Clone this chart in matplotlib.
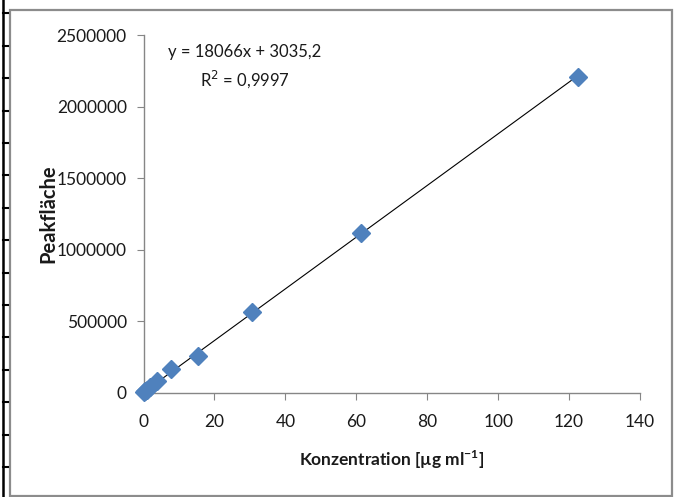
import matplotlib
matplotlib.use("Agg")
import matplotlib.pyplot as plt
from matplotlib.lines import Line2D
from matplotlib.patches import Rectangle
import numpy as np

plt.rcParams['font.family'] = ['Lato', 'DejaVu Sans']

konz = [0.24, 0.48, 0.96, 1.92, 3.83, 7.66, 15.3, 30.6, 61.25, 122.5]
peak = [4500, 10000, 20000, 38000, 80000, 163000, 258000, 566000, 1115000, 2207000]
slope = 18066
intercept = 3035.2
eq_text = "y = 18066x + 3035,2"
r2_text = "R$^2$ = 0,9997"
x_ticks = [0, 20, 40, 60, 80, 100, 120, 140]
y_ticks = [0, 500000, 1000000, 1500000, 2000000, 2500000]

W, H = 679, 497
fig = plt.figure(figsize=(W/100, H/100), dpi=100)
ax = fig.add_axes([143.5/W, 1-392.7/H, (640-143.5)/W, (392.7-35)/H])

gray = '#868686'
xl = np.array([0, max(konz)])
ax.plot(xl, slope*xl + intercept, color='black', lw=0.8, zorder=2)
ax.plot(konz, peak, linestyle='none', marker='D', markersize=9,
        color='#4F81BD', markeredgecolor='#4F81BD', zorder=3, clip_on=False)

ax.set_xlim(0, 140)
ax.set_ylim(0, 2500000)
ax.set_xticks(x_ticks)
ax.set_yticks(y_ticks)
ax.set_xticklabels([str(v) for v in x_ticks])
ax.set_yticklabels([str(v) for v in y_ticks])
for s in ['top', 'right']:
    ax.spines[s].set_visible(False)
for s in ['left', 'bottom']:
    ax.spines[s].set_color(gray)
    ax.spines[s].set_linewidth(1.0)
ax.tick_params(direction='out', length=5, color=gray, labelsize=12.5,
               labelcolor='#1a1a1a')
ax.tick_params(axis='x', pad=10)
ax.tick_params(axis='y', pad=7)

ax.set_xlabel("Konzentration [µg ml$^{\\mathregular{-1}}$]", fontsize=12.5,
              fontweight='bold', color='#1a1a1a', labelpad=14)
ax.set_ylabel("Peakfläche", fontsize=14.5, fontweight='bold',
              color='#1a1a1a', labelpad=-1)

fig.text(245/W, 1-52/H, eq_text, ha='center', va='center', fontsize=12,
         color='#1a1a1a')
fig.text(245/W, 1-79/H, r2_text, ha='center', va='center', fontsize=12,
         color='#1a1a1a')

# chart frame
fig.add_artist(Rectangle((9.5/W, 1-496/H), (672-9.5)/W, (496-10)/H,
                         transform=fig.transFigure, fill=False,
                         edgecolor='#8c8c8c', lw=1.6))
# table border at left edge
fig.add_artist(Line2D([2.5/W, 2.5/W], [0, 1], transform=fig.transFigure,
                      color='black', lw=1.8))
for yy in np.arange(13.3, H, 32.4):
    fig.add_artist(Line2D([2.5/W, 7.5/W], [1-yy/H, 1-yy/H],
                          transform=fig.transFigure, color='black', lw=1.5))

fig.savefig("out.png", dpi=100)
